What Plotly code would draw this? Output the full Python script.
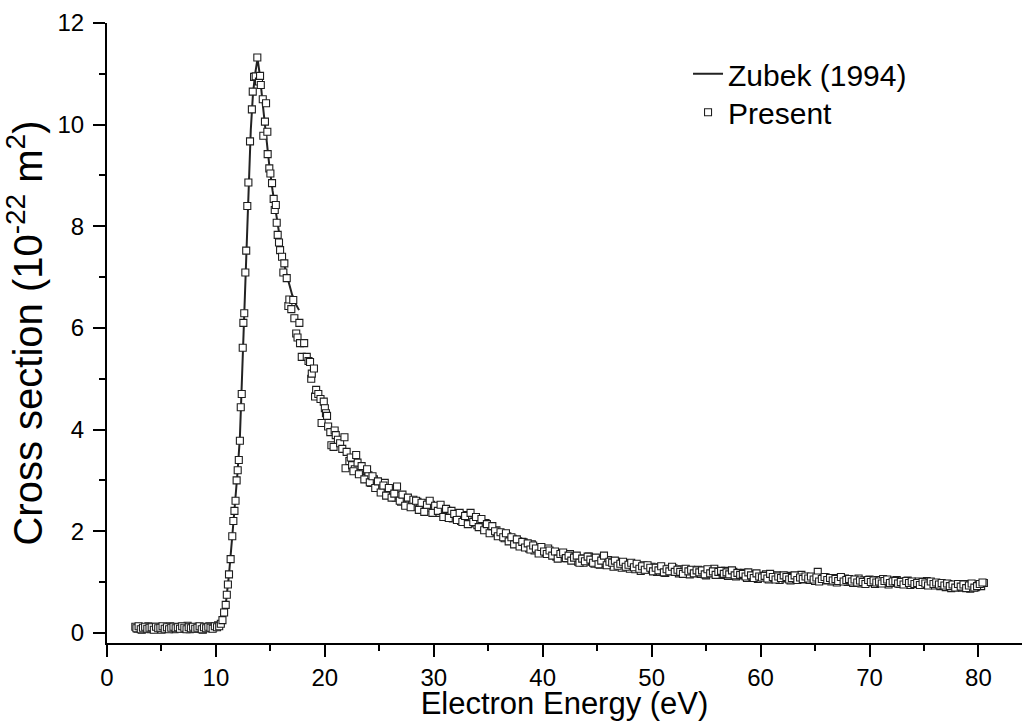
import plotly.graph_objects as go

# ---- Zubek (1994) curve ----
zubek_energy = [10.3, 10.6, 10.9, 11.2, 11.5, 11.8, 12.0, 12.2, 12.4, 12.6, 12.8, 13.0, 13.2, 13.4,
                13.6, 13.82, 14.05, 14.3, 14.6, 14.9, 15.2, 15.5, 15.8, 16.1, 16.4, 16.7, 17.0, 17.3, 17.63]
zubek_cs = [0.10, 0.25, 0.55, 1.15, 1.90, 2.65, 3.20, 3.85, 5.10, 6.35, 7.70, 8.90, 9.90, 10.60,
            11.00, 11.30, 10.95, 10.40, 9.75, 9.20, 8.70, 8.25, 7.80, 7.45, 7.12, 6.88, 6.65, 6.48, 6.35]

# ---- Present data: below threshold ----
low_energy = [2.6, 2.8, 3.0, 3.2, 3.4, 3.6, 3.8, 4.0, 4.2, 4.4, 4.6, 4.8, 5.0, 5.2, 5.4, 5.6, 5.8, 6.0,
              6.2, 6.4, 6.6, 6.8, 7.0, 7.2, 7.4, 7.6, 7.8, 8.0, 8.2, 8.4, 8.6, 8.8, 9.0, 9.2, 9.4, 9.6,
              9.8, 10.0, 10.2]
low_cs = [0.12, 0.08, 0.10, 0.06, 0.11, 0.09, 0.13, 0.07, 0.10, 0.08, 0.12, 0.09, 0.06, 0.11, 0.10,
          0.08, 0.13, 0.09, 0.07, 0.11, 0.10, 0.12, 0.08, 0.09, 0.14, 0.07, 0.11, 0.10, 0.08, 0.12,
          0.09, 0.06, 0.11, 0.10, 0.13, 0.09, 0.11, 0.12, 0.15]
low2_energy = [2.7, 2.9, 3.1, 3.3, 3.5, 3.7, 3.9, 4.1, 4.3, 4.5, 4.7, 4.9, 5.1, 5.3, 5.5, 5.7, 5.9,
               6.1, 6.3, 6.5, 6.7, 6.9, 7.1, 7.3, 7.5, 7.7, 7.9, 8.1, 8.3, 8.5, 8.7, 8.9, 9.1, 9.3,
               9.5, 9.7, 9.9, 10.1]
low2_cs = [0.09, 0.13, 0.07, 0.10, 0.12, 0.08, 0.10, 0.11, 0.06, 0.12, 0.09, 0.10, 0.13, 0.08, 0.11,
           0.07, 0.10, 0.12, 0.09, 0.11, 0.08, 0.13, 0.10, 0.07, 0.11, 0.09, 0.12, 0.08, 0.10, 0.13,
           0.07, 0.11, 0.09, 0.12, 0.10, 0.08, 0.13, 0.11]

# ---- Present data: peak region ----
peak_energy = [10.3, 10.45, 10.6, 10.75, 10.9, 11.0, 11.1, 11.2, 11.35, 11.5, 11.6, 11.7, 11.8, 11.9,
               12.0, 12.1, 12.2, 12.28, 12.37, 12.46, 12.52, 12.6, 12.7, 12.78, 12.88, 12.98, 13.13,
               13.3, 13.38, 13.5, 13.65, 13.8, 13.95, 14.05, 14.12, 14.3, 14.35, 14.5, 14.6, 14.72,
               14.75, 14.9, 15.0, 15.15, 15.3, 15.4, 15.5, 15.58, 15.67, 15.79, 15.89, 16.07, 16.19,
               16.28, 16.5, 16.65, 16.74, 16.92, 17.1, 17.2, 17.37, 17.49, 17.66, 17.72, 17.88, 18.1,
               18.34, 18.5, 18.64, 18.75, 18.8, 19.0, 19.1, 19.2, 19.4, 19.6, 19.7, 19.9, 20.0, 20.1,
               20.2, 20.3, 20.5, 20.6, 20.8, 20.9, 21.0, 21.2, 21.4, 21.6, 21.8, 21.9, 22.0]
peak_cs = [0.13, 0.18, 0.25, 0.40, 0.55, 0.75, 0.95, 1.15, 1.45, 1.90, 2.20, 2.40, 2.60, 3.00,
           3.20, 3.40, 3.78, 4.44, 4.70, 5.61, 6.10, 6.29, 7.09, 7.52, 8.40, 8.86, 9.67,
           10.30, 10.65, 10.94, 10.95, 11.32, 10.85, 10.96, 10.78, 10.50, 9.78, 10.06, 10.42, 9.86,
           9.42, 9.14, 9.04, 8.85, 8.54, 8.32, 8.42, 8.07, 7.83, 7.68, 7.53, 7.40, 7.09,
           7.27, 6.98, 6.43, 6.56, 6.37, 6.55, 6.19, 5.89, 5.81, 6.10, 5.70, 5.43, 5.70,
           5.43, 5.35, 5.33, 5.00, 5.10, 5.20, 4.65, 4.78, 4.70, 4.60, 4.13, 4.55, 4.42, 4.32,
           4.27, 4.06, 3.95, 3.69, 3.66, 3.98, 3.89, 3.80, 3.73, 3.62, 3.85, 3.24, 3.56]

# ---- Present data: tail (first interleaved set) ----
tail_energy = [
    22.25, 22.5, 22.75, 23.0, 23.25, 23.5, 23.75, 24.0,
    24.25, 24.5, 24.75, 25.0, 25.25, 25.5, 25.75, 26.0,
    26.25, 26.5, 26.75, 27.0, 27.25, 27.5, 27.75, 28.0,
    28.25, 28.5, 28.75, 29.0, 29.25, 29.5, 29.75, 30.0,
    30.25, 30.5, 30.75, 31.0, 31.25, 31.5, 31.75, 32.0,
    32.25, 32.5, 32.75, 33.0, 33.25, 33.5, 33.75, 34.0,
    34.25, 34.5, 34.75, 35.0, 35.25, 35.5, 35.75, 36.0,
    36.25, 36.5, 36.75, 37.0, 37.25, 37.5, 37.75, 38.0,
    38.25, 38.5, 38.75, 39.0, 39.25, 39.5, 39.75, 40.0,
    40.25, 40.5, 40.75, 41.0, 41.25, 41.5, 41.75, 42.0,
    42.25, 42.5, 42.75, 43.0, 43.25, 43.5, 43.75, 44.0,
    44.25, 44.5, 44.75, 45.0, 45.25, 45.5, 45.75, 46.0,
    46.25, 46.5, 46.75, 47.0, 47.25, 47.5, 47.75, 48.0,
    48.25, 48.5, 48.75, 49.0, 49.25, 49.5, 49.75, 50.0,
    50.25, 50.5, 50.75, 51.0, 51.25, 51.5, 51.75, 52.0,
    52.25, 52.5, 52.75, 53.0, 53.25, 53.5, 53.75, 54.0,
    54.25, 54.5, 54.75, 55.0, 55.25, 55.5, 55.75, 56.0,
    56.25, 56.5, 56.75, 57.0, 57.25, 57.5, 57.75, 58.0,
    58.25, 58.5, 58.75, 59.0, 59.25, 59.5, 59.75, 60.0,
    60.25, 60.5, 60.75, 61.0, 61.25, 61.5, 61.75, 62.0,
    62.25, 62.5, 62.75, 63.0, 63.25, 63.5, 63.75, 64.0,
    64.25, 64.5, 64.75, 65.0, 65.25, 65.5, 65.75, 66.0,
    66.25, 66.5, 66.75, 67.0, 67.25, 67.5, 67.75, 68.0,
    68.25, 68.5, 68.75, 69.0, 69.25, 69.5, 69.75, 70.0,
    70.25, 70.5, 70.75, 71.0, 71.25, 71.5, 71.75, 72.0,
    72.25, 72.5, 72.75, 73.0, 73.25, 73.5, 73.75, 74.0,
    74.25, 74.5, 74.75, 75.0, 75.25, 75.5, 75.75, 76.0,
    76.25, 76.5, 76.75, 77.0, 77.25, 77.5, 77.75, 78.0,
    78.25, 78.5, 78.75, 79.0, 79.25, 79.5, 79.75, 80.0,
    80.25, 80.5]
tail_cs = [
    3.38, 3.30, 3.22, 3.35, 3.15, 3.20, 3.05, 3.10,
    2.95, 3.02, 2.88, 2.92, 2.80, 2.95, 2.78, 2.72,
    2.80, 2.66, 2.70, 2.58, 2.64, 2.52, 2.60, 2.55,
    2.48, 2.58, 2.50, 2.44, 2.55, 2.46, 2.52, 2.40,
    2.48, 2.36, 2.42, 2.30, 2.40, 2.33, 2.25, 2.35,
    2.28, 2.20, 2.32, 2.24, 2.15, 2.27, 2.22, 2.12,
    2.20, 2.10, 2.16, 2.05, 2.08, 1.98, 2.02, 1.92,
    1.95, 1.86, 1.90, 1.82, 1.85, 1.76, 1.80, 1.72,
    1.78, 1.70, 1.66, 1.74, 1.62, 1.68, 1.58, 1.65,
    1.60, 1.66, 1.55, 1.58, 1.50, 1.56, 1.48, 1.53,
    1.47, 1.55, 1.44, 1.50, 1.40, 1.46, 1.38, 1.44,
    1.50, 1.40, 1.36, 1.45, 1.34, 1.41, 1.37, 1.43,
    1.35, 1.30, 1.40, 1.33, 1.28, 1.37, 1.31, 1.26,
    1.34, 1.25, 1.30, 1.22, 1.33, 1.27, 1.24, 1.30,
    1.25, 1.20, 1.29, 1.23, 1.18, 1.26, 1.22, 1.27,
    1.21, 1.17, 1.25, 1.19, 1.23, 1.15, 1.22, 1.18,
    1.24, 1.16, 1.20, 1.13, 1.22, 1.18, 1.26, 1.15,
    1.19, 1.14, 1.22, 1.12, 1.17, 1.20, 1.11, 1.16,
    1.13, 1.18, 1.08, 1.15, 1.10, 1.14, 1.06, 1.12,
    1.09, 1.15, 1.05, 1.12, 1.08, 1.13, 1.04, 1.10,
    1.07, 1.12, 1.03, 1.10, 1.06, 1.09, 1.14, 1.05,
    1.10, 1.04, 1.08, 1.02, 1.20, 1.07, 1.03, 1.09,
    1.05, 1.01, 1.08, 0.99, 1.06, 1.03, 1.07, 1.00,
    1.04, 0.98, 1.02, 1.07, 0.97, 1.03, 0.99, 1.05,
    1.00, 0.96, 1.04, 0.98, 1.06, 1.01, 0.95, 1.03,
    0.99, 1.04, 0.96, 1.01, 0.97, 1.03, 0.94, 1.00,
    0.96, 1.01, 0.94, 0.99, 1.02, 0.95, 0.98, 0.93,
    0.97, 0.92, 0.95, 0.90, 0.96, 0.88, 0.94, 0.91,
    0.93, 0.89, 0.96, 0.91, 0.87, 0.94, 0.90, 0.95,
    0.92, 0.98]

# ---- Present data: tail (second interleaved set) ----
tail2_energy = [
    22.375, 22.625, 22.875, 23.125, 23.375, 23.625, 23.875, 24.125,
    24.375, 24.625, 24.875, 25.125, 25.375, 25.625, 25.875, 26.125,
    26.375, 26.625, 26.875, 27.125, 27.375, 27.625, 27.875, 28.125,
    28.375, 28.625, 28.875, 29.125, 29.375, 29.625, 29.875, 30.125,
    30.375, 30.625, 30.875, 31.125, 31.375, 31.625, 31.875, 32.125,
    32.375, 32.625, 32.875, 33.125, 33.375, 33.625, 33.875, 34.125,
    34.375, 34.625, 34.875, 35.125, 35.375, 35.625, 35.875, 36.125,
    36.375, 36.625, 36.875, 37.125, 37.375, 37.625, 37.875, 38.125,
    38.375, 38.625, 38.875, 39.125, 39.375, 39.625, 39.875, 40.125,
    40.375, 40.625, 40.875, 41.125, 41.375, 41.625, 41.875, 42.125,
    42.375, 42.625, 42.875, 43.125, 43.375, 43.625, 43.875, 44.125,
    44.375, 44.625, 44.875, 45.125, 45.375, 45.625, 45.875, 46.125,
    46.375, 46.625, 46.875, 47.125, 47.375, 47.625, 47.875, 48.125,
    48.375, 48.625, 48.875, 49.125, 49.375, 49.625, 49.875, 50.125,
    50.375, 50.625, 50.875, 51.125, 51.375, 51.625, 51.875, 52.125,
    52.375, 52.625, 52.875, 53.125, 53.375, 53.625, 53.875, 54.125,
    54.375, 54.625, 54.875, 55.125, 55.375, 55.625, 55.875, 56.125,
    56.375, 56.625, 56.875, 57.125, 57.375, 57.625, 57.875, 58.125,
    58.375, 58.625, 58.875, 59.125, 59.375, 59.625, 59.875, 60.125,
    60.375, 60.625, 60.875, 61.125, 61.375, 61.625, 61.875, 62.125,
    62.375, 62.625, 62.875, 63.125, 63.375, 63.625, 63.875, 64.125,
    64.375, 64.625, 64.875, 65.125, 65.375, 65.625, 65.875, 66.125,
    66.375, 66.625, 66.875, 67.125, 67.375, 67.625, 67.875, 68.125,
    68.375, 68.625, 68.875, 69.125, 69.375, 69.625, 69.875, 70.125,
    70.375, 70.625, 70.875, 71.125, 71.375, 71.625, 71.875, 72.125,
    72.375, 72.625, 72.875, 73.125, 73.375, 73.625, 73.875, 74.125,
    74.375, 74.625, 74.875, 75.125, 75.375, 75.625, 75.875, 76.125,
    76.375, 76.625, 76.875, 77.125, 77.375, 77.625, 77.875, 78.125,
    78.375, 78.625, 78.875, 79.125, 79.375, 79.625, 79.875, 80.125,
    80.375]
tail2_cs = [
    3.45, 3.18, 3.50, 3.12, 3.28, 3.02, 3.22, 2.96,
    3.08, 2.85, 2.98, 2.76, 2.90, 2.70, 2.85, 2.66,
    2.74, 2.88, 2.60, 2.72, 2.50, 2.66, 2.47, 2.62,
    2.60, 2.42, 2.56, 2.38, 2.52, 2.60, 2.36, 2.50,
    2.40, 2.52, 2.28, 2.44, 2.26, 2.40, 2.34, 2.22,
    2.36, 2.18, 2.30, 2.14, 2.36, 2.18, 2.28, 2.08,
    2.24, 2.02, 2.14, 1.96, 2.10, 2.00, 1.90, 1.98,
    1.88, 1.96, 1.80, 1.88, 1.74, 1.84, 1.70, 1.79,
    1.68, 1.76, 1.64, 1.72, 1.66, 1.56, 1.69, 1.60,
    1.55, 1.62, 1.52, 1.60, 1.46, 1.55, 1.58, 1.47,
    1.52, 1.42, 1.48, 1.52, 1.38, 1.46, 1.41, 1.50,
    1.44, 1.38, 1.48, 1.35, 1.42, 1.52, 1.33, 1.40,
    1.38, 1.42, 1.32, 1.36, 1.40, 1.30, 1.34, 1.38,
    1.29, 1.36, 1.26, 1.31, 1.24, 1.33, 1.28, 1.21,
    1.28, 1.23, 1.31, 1.19, 1.25, 1.21, 1.30, 1.20,
    1.24, 1.20, 1.16, 1.26, 1.21, 1.24, 1.17, 1.23,
    1.19, 1.23, 1.15, 1.25, 1.17, 1.21, 1.14, 1.20,
    1.22, 1.16, 1.19, 1.15, 1.23, 1.13, 1.18, 1.14,
    1.16, 1.11, 1.19, 1.13, 1.08, 1.17, 1.11, 1.09,
    1.12, 1.07, 1.16, 1.10, 1.05, 1.11, 1.08, 1.13,
    1.10, 1.05, 1.08, 1.13, 1.04, 1.09, 1.06, 1.11,
    1.07, 1.11, 1.05, 1.09, 1.01, 1.06, 1.10, 1.04,
    1.08, 1.03, 1.06, 1.02, 1.10, 1.01, 1.04, 1.06,
    1.01, 1.05, 0.99, 1.03, 1.00, 0.96, 1.04, 1.00,
    1.03, 0.99, 1.01, 0.97, 1.02, 1.05, 0.98, 1.01,
    1.02, 0.97, 1.00, 0.95, 1.02, 0.98, 1.01, 0.96,
    0.98, 0.94, 1.00, 0.97, 0.93, 1.01, 0.96, 0.99,
    0.95, 0.98, 0.93, 0.97, 0.92, 0.95, 0.89, 0.96,
    0.91, 0.95, 0.88, 0.93, 0.97, 0.89, 0.92, 0.96,
    0.99]

present_energy = low_energy + low2_energy + peak_energy + tail_energy + tail2_energy
present_cs = low_cs + low2_cs + peak_cs + tail_cs + tail2_cs

x_ticks = [0, 10, 20, 30, 40, 50, 60, 70, 80]
y_ticks = [0, 2, 4, 6, 8, 10, 12]

FONT = "Arial, Liberation Sans, Helvetica, sans-serif"

fig = go.Figure()
fig.add_trace(go.Scatter(
    x=zubek_energy, y=zubek_cs, mode="lines", name="Zubek (1994)",
    line=dict(color="#222222", width=2), legend="legend",
))
fig.add_trace(go.Scatter(
    x=present_energy, y=present_cs, mode="markers", name="Present",
    marker=dict(symbol="square", size=7, color="white",
                line=dict(color="#1e1e1e", width=1.1)),
    legend="legend2",
))

axis_common = dict(
    showline=True, linecolor="black", linewidth=2, mirror=False,
    ticks="outside", ticklen=12, tickwidth=2, tickcolor="black",
    showgrid=False, zeroline=False,
    tickfont=dict(family=FONT, size=24, color="black"),
)

fig.update_xaxes(
    range=[0, 84], tickvals=x_ticks, ticktext=[str(v) for v in x_ticks],
    minor=dict(dtick=5, tick0=0, ticks="outside", ticklen=6, tickwidth=2, tickcolor="black"),
    title=dict(text="Electron Energy (eV)", font=dict(family=FONT, size=31, color="black"), standoff=4),
    **axis_common,
)
fig.update_yaxes(
    range=[-0.2, 12], tickvals=y_ticks, ticktext=[str(v) for v in y_ticks],
    minor=dict(dtick=1, tick0=0, ticks="outside", ticklen=6, tickwidth=2, tickcolor="black"),
    ticklabelstandoff=4,
    title=dict(text="Cross section (10<sup>-22</sup> m<sup>2</sup>)",
               font=dict(family=FONT, size=40, color="black"), standoff=8),
    **axis_common,
)

legend_style = dict(
    xanchor="left", yanchor="top",
    font=dict(family=FONT, size=30, color="black"),
    bgcolor="rgba(0,0,0,0)", borderwidth=0,
)

fig.update_layout(
    width=1025, height=721,
    margin=dict(l=107, r=3, t=23, b=78),
    paper_bgcolor="white", plot_bgcolor="white",
    font=dict(family=FONT, color="black"),
    showlegend=True,
    legend=dict(x=0.635, y=0.96, **legend_style),
    legend2=dict(x=0.635, y=0.898, **legend_style),
)

fig.write_html("out.html")
